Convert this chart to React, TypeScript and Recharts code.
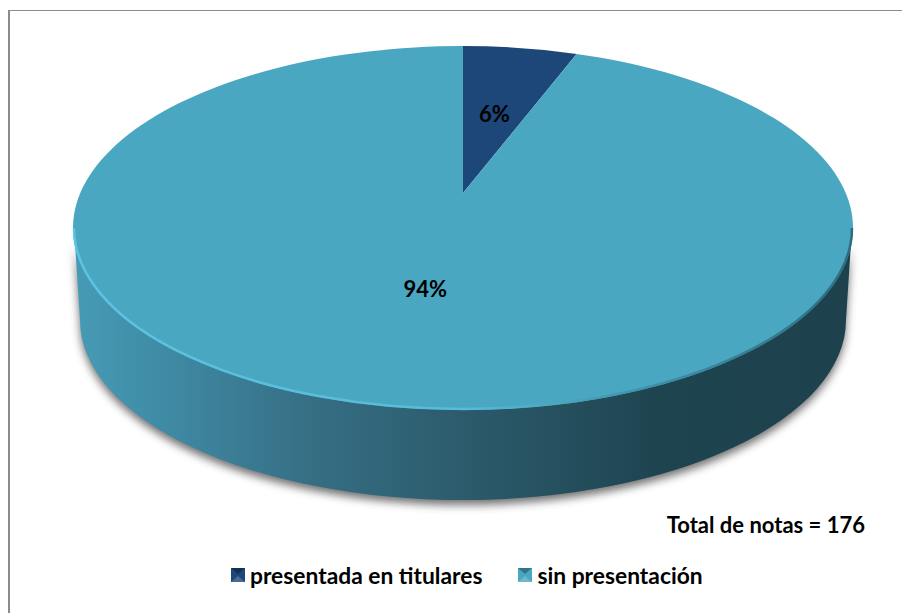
import { Legend, Pie, PieChart } from "recharts";

const categories = ["presentada en titulares", "sin presentación"];
const shares = [6, 94];
const sliceColors = ["#1d4679", "#4aa7c2"];
const labelReach = [0.55, 0.45];
const totalNote = "Total de notas = 176";

const WIDTH = 902;
const HEIGHT = 613;
const APEX_X = 463;
const APEX_Y = 193;
const RX = 390;
const RY = 182;
const RAY_TILT = 0.485;
// the perspective puts the top ellipse's middle below the slices' meeting point
const ELLIPSE_DROP = 35;

const pieData = categories.map((name, i) => ({
  name,
  value: shares[i],
  fill: sliceColors[i],
}));

// where a ray leaving the apex at the given pie angle meets the rim
function rimPoint(cx: number, cy: number, angle: number) {
  const rad = ((90 - angle) * Math.PI) / 180;
  const dx = Math.sin(rad);
  const dy = -Math.cos(rad) * RAY_TILT;
  const a = (dx * dx) / (RX * RX) + (dy * dy) / (RY * RY);
  const b = (2 * dy * -ELLIPSE_DROP) / (RY * RY);
  const c = (ELLIPSE_DROP * ELLIPSE_DROP) / (RY * RY) - 1;
  const t = (-b + Math.sqrt(b * b - 4 * a * c)) / (2 * a);
  return { x: cx + dx * t, y: cy + dy * t };
}

function TopSlice(props: any) {
  const { cx, cy, startAngle, endAngle, fill, index } = props;
  const from = rimPoint(cx, cy, startAngle);
  const to = rimPoint(cx, cy, endAngle);
  const large = Math.abs(startAngle - endAngle) > 180 ? 1 : 0;
  const d = `M${cx},${cy} L${from.x},${from.y} A${RX},${RY} 0 ${large} 1 ${to.x},${to.y} Z`;
  const mid = cy + ELLIPSE_DROP;
  const rim = `M${cx - RX + 1},${mid} A${RX - 1},${RY - 1} 0 0 0 ${cx + RX - 1},${mid}`;
  return (
    <g>
      <path d={d} fill={fill} />
      {index === 1 && (
        <path d={rim} fill="none" stroke="url(#rimStroke)" strokeWidth={2.5} filter="url(#rimSoft)" />
      )}
    </g>
  );
}

function WallSlice(props: any) {
  const { cx, cy, index } = props;
  if (index !== 1) return null;
  const top = cy + ELLIPSE_DROP;
  const low = top + 92;
  const d = `M${cx - RX + 1},${top} L${cx - RX + 7},${low} A${RX - 7},${RY - 2} 0 0 0 ${cx + RX - 7},${low} L${cx + RX - 1},${top} A${RX - 1},${RY - 1} 0 0 1 ${cx - RX + 1},${top} Z`;
  return (
    <g>
      <path d={d} fill="#444" opacity={0.75} filter="url(#wallShadow)" transform="translate(0,5)" />
      <path d={d} fill="url(#wallFill)" />
    </g>
  );
}

function PieLabel(props: any) {
  const { cx, cy, midAngle, percent, index } = props;
  const rim = rimPoint(cx, cy, midAngle);
  const reach = labelReach[index];
  return (
    <text
      x={cx + (rim.x - cx) * reach}
      y={cy + (rim.y - cy) * reach}
      textAnchor="middle"
      dominantBaseline="central"
      fontFamily="Lato"
      fontWeight={700}
      fontSize={22}
      fill="#000"
    >
      {`${Math.round(percent * 100)}%`}
    </text>
  );
}

function LegendRow({ payload }: any) {
  // both Pie series report their sectors, keep one entry per category
  const entries = categories.filter((name) =>
    (payload ?? []).some((entry: any) => entry.value === name),
  );
  return (
    <div style={{ display: "flex", whiteSpace: "nowrap", fontFamily: "Lato", fontWeight: 700, fontSize: 22.8, color: "#000" }}>
      {entries.map((name, i) => (
        <div key={name} style={{ display: "flex", alignItems: "center", marginRight: i === 0 ? 36 : 0 }}>
          <svg width={14} height={14} style={{ marginRight: 5 }}>
            <rect width={14} height={14} fill={sliceColors[i]} />
            <path d="M0,0 H14 L7,6 Z" fill="#000" opacity={0.3} />
            <path d="M0,14 H14 L7,8 Z" fill="#fff" opacity={0.2} />
          </svg>
          <span>{name}</span>
        </div>
      ))}
    </div>
  );
}

export default function App() {
  return (
    <div style={{ position: "absolute", left: 0, top: 0, width: WIDTH, height: HEIGHT, overflow: "hidden", background: "#fff" }}>
      <div style={{ position: "absolute", left: 8, top: 10, width: WIDTH, height: HEIGHT, borderLeft: "2px solid #8c8c8c", borderTop: "1px solid #8c8c8c" }} />
      <PieChart width={WIDTH} height={HEIGHT} margin={{ top: 0, right: 0, bottom: 0, left: 0 }}>
        <defs>
          <linearGradient id="wallFill" gradientUnits="userSpaceOnUse" x1={73} y1={0} x2={853} y2={0}>
            <stop offset="0" stopColor="#479bb6" />
            <stop offset="0.1" stopColor="#408da7" />
            <stop offset="0.3" stopColor="#366f85" />
            <stop offset="0.5" stopColor="#2c5b6c" />
            <stop offset="0.75" stopColor="#1e4450" />
            <stop offset="1" stopColor="#1d424e" />
          </linearGradient>
          <linearGradient id="rimStroke" gradientUnits="userSpaceOnUse" x1={73} y1={0} x2={853} y2={0}>
            <stop offset="0" stopColor="#5cc3e0" />
            <stop offset="0.5" stopColor="#58bcd8" />
            <stop offset="0.75" stopColor="#3f8ea6" />
            <stop offset="1" stopColor="#2f6c7e" />
          </linearGradient>
          <filter id="wallShadow" x="-5%" y="-10%" width="110%" height="125%">
            <feGaussianBlur stdDeviation="4.5" />
          </filter>
          <filter id="rimSoft" x="-5%" y="-10%" width="110%" height="125%">
            <feGaussianBlur stdDeviation="0.6" />
          </filter>
        </defs>
        <Pie
          data={pieData}
          dataKey="value"
          nameKey="name"
          cx={APEX_X}
          cy={APEX_Y}
          outerRadius={RX}
          startAngle={90}
          endAngle={-270}
          stroke="none"
          legendType="none"
          shape={WallSlice}
          isAnimationActive={false}
        />
        <Pie
          data={pieData}
          dataKey="value"
          nameKey="name"
          cx={APEX_X}
          cy={APEX_Y}
          outerRadius={RX}
          startAngle={90}
          endAngle={-270}
          stroke="none"
          shape={TopSlice}
          label={PieLabel}
          labelLine={false}
          isAnimationActive={false}
        />
        <Legend
          content={<LegendRow />}
          wrapperStyle={{ position: "absolute", left: 231, top: 561, width: "auto" }}
        />
        <text x={865} y={533} textAnchor="end" fontFamily="Lato" fontWeight={700} fontSize={22} fill="#000">
          {totalNote}
        </text>
      </PieChart>
    </div>
  );
}
